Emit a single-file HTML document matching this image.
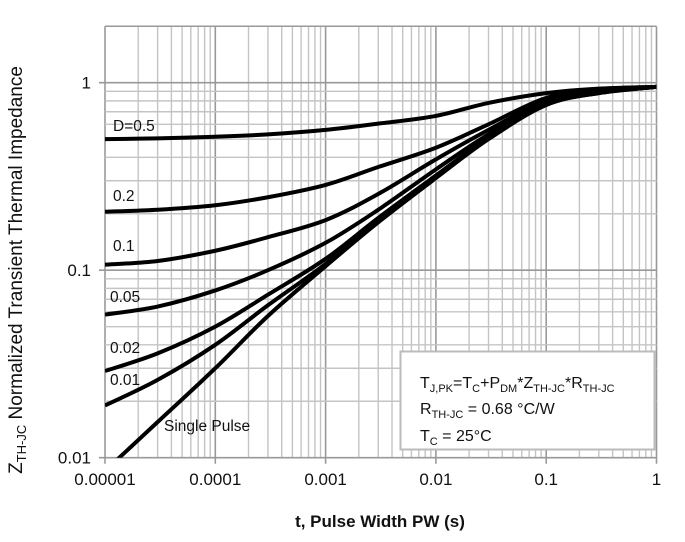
<!DOCTYPE html>
<html><head><meta charset="utf-8"><style>
body{margin:0;background:#fff;}
svg text{font-family:"Liberation Sans",Arial,sans-serif;fill:#111;}
</style></head><body>
<svg id="chart" width="685" height="537" viewBox="0 0 685 537">
<g id="grid"></g>
<g id="curves"></g>
<g id="ticks"></g>
<g font-size="15.5">
<text x="113" y="131">D=0.5</text>
<text x="113" y="201">0.2</text>
<text x="113" y="251">0.1</text>
<text x="110" y="302">0.05</text>
<text x="110" y="353">0.02</text>
<text x="110" y="385">0.01</text>
<text x="164" y="431">Single Pulse</text>
</g>
<g>
<rect x="400.5" y="351.5" width="254" height="98" fill="#fff" stroke="#bbb" stroke-width="2"/>
<text x="420" y="388" font-size="16">T<tspan font-size="11" dy="4">J,PK</tspan><tspan dy="-4">=T</tspan><tspan font-size="11" dy="4">C</tspan><tspan dy="-4">+P</tspan><tspan font-size="11" dy="4">DM</tspan><tspan dy="-4">*Z</tspan><tspan font-size="11" dy="4">TH-JC</tspan><tspan dy="-4">*R</tspan><tspan font-size="11" dy="4">TH-JC</tspan></text>
<text x="420" y="414" font-size="16">R<tspan font-size="11" dy="4">TH-JC</tspan><tspan dy="-4"> = 0.68 °C/W</tspan></text>
<text x="420" y="441" font-size="16">T<tspan font-size="11" dy="4">C</tspan><tspan dy="-4"> = 25°C</tspan></text>
</g>
<text x="380" y="527" font-size="17" font-weight="bold" text-anchor="middle">t, Pulse Width PW (s)</text>
<text transform="translate(22,270) rotate(-90)" font-size="19" text-anchor="middle">Z<tspan font-size="13" dy="4">TH-JC</tspan><tspan dy="-4"> Normalized Transient Thermal Impedance</tspan></text>
</svg>
<script>
const tPoints=[1e-5,3e-5,1e-4,3e-4,1e-3,3e-3,1e-2,3e-2,0.1,0.3,1];
const seriesNames=["D=0.5","0.2","0.1","0.05","0.02","0.01","Single Pulse"];
const sD05=[0.5,0.505,0.515,0.53,0.56,0.605,0.665,0.78,0.88,0.93,0.95];
const sD02=[0.205,0.21,0.222,0.245,0.285,0.355,0.45,0.60,0.83,0.92,0.95];
const sD01=[0.107,0.112,0.127,0.15,0.185,0.255,0.39,0.56,0.80,0.90,0.95];
const sD005=[0.058,0.064,0.078,0.10,0.14,0.21,0.345,0.53,0.78,0.89,0.95];
const sD002=[0.029,0.036,0.05,0.074,0.115,0.19,0.32,0.51,0.77,0.885,0.95];
const sD001=[0.019,0.026,0.040,0.065,0.108,0.183,0.315,0.505,0.765,0.88,0.95];
const sSingle=[0.0085,0.0155,0.030,0.057,0.105,0.18,0.31,0.50,0.76,0.88,0.95];
const xTicks=["0.00001","0.0001","0.001","0.01","0.1","1"];
const yTicks=["0.01","0.1","1"];
const NS="http://www.w3.org/2000/svg";
const X0=105,DX=110.3,Y1=82.7,DY=187.5,XMIN=-5;
function xs(t){return X0+(Math.log10(t)-XMIN)*DX;}
function ys(v){return Y1-Math.log10(v)*DY;}
function mk(tag,attrs,parent){const e=document.createElementNS(NS,tag);for(const k in attrs)e.setAttribute(k,attrs[k]);parent.appendChild(e);return e;}
const grid=document.getElementById('grid');
const yTop=ys(2),yBot=ys(0.01),xLeft=xs(1e-5),xRight=xs(1);
for(let d=-5;d<0;d++){for(let m=1;m<10;m++){const x=xs(m*Math.pow(10,d));
const l=mk('line',{x1:x,x2:x,y1:yTop,y2:yBot+(m==1?6:0),stroke:m==1?'#999':'#c4c4c4','stroke-width':m==1?1.6:1.4},grid);

}}
{const l=mk('line',{x1:xRight,x2:xRight,y1:yTop,y2:yBot+6,stroke:'#999','stroke-width':1.6},grid);

}
for(let d=-2;d<=0;d++){for(let m=1;m<10;m++){const v=m*Math.pow(10,d);if(v>2)break;const y=ys(v);
const l=mk('line',{x1:xLeft-(m==1?6:0),x2:xRight,y1:y,y2:y,stroke:m==1?'#999':'#c4c4c4','stroke-width':m==1?1.6:1.4},grid);

}}
{const l=mk('line',{x1:xLeft,x2:xRight,y1:yTop,y2:yTop,stroke:'#999','stroke-width':1.6},grid);

}
const tk=document.getElementById('ticks');
xTicks.forEach(s=>{const t=mk('text',{x:xs(parseFloat(s)),y:485,'font-size':17,'text-anchor':'middle'},tk);t.textContent=s;

});
yTicks.forEach(s=>{const t=mk('text',{x:91,y:ys(parseFloat(s))+6,'font-size':17,'text-anchor':'end'},tk);t.textContent=s;

});
const cv=document.getElementById('curves');
const all=[sD05,sD02,sD01,sD005,sD002,sD001,sSingle];
const cp=mk('clipPath',{id:'pc'},document.getElementById('chart'));mk('rect',{x:xLeft,y:yTop,width:xRight-xLeft,height:yBot-yTop},cp);
all.forEach((s,i)=>{const p=tPoints.map((t,j)=>[xs(t),ys(s[j])]);
let d='M'+p[0][0]+','+p[0][1];
for(let j=0;j<p.length-1;j++){const a=p[j-1]||p[j],b=p[j],c=p[j+1],e=p[j+2]||c;
d+=' C'+(b[0]+(c[0]-a[0])/6)+','+(b[1]+(c[1]-a[1])/6)+' '+(c[0]-(e[0]-b[0])/6)+','+(c[1]-(e[1]-b[1])/6)+' '+c[0]+','+c[1];}
const path=mk('path',{d:d,fill:'none',stroke:'#000','stroke-width':4,'clip-path':'url(#pc)'},cv);

});
</script>
</body></html>
